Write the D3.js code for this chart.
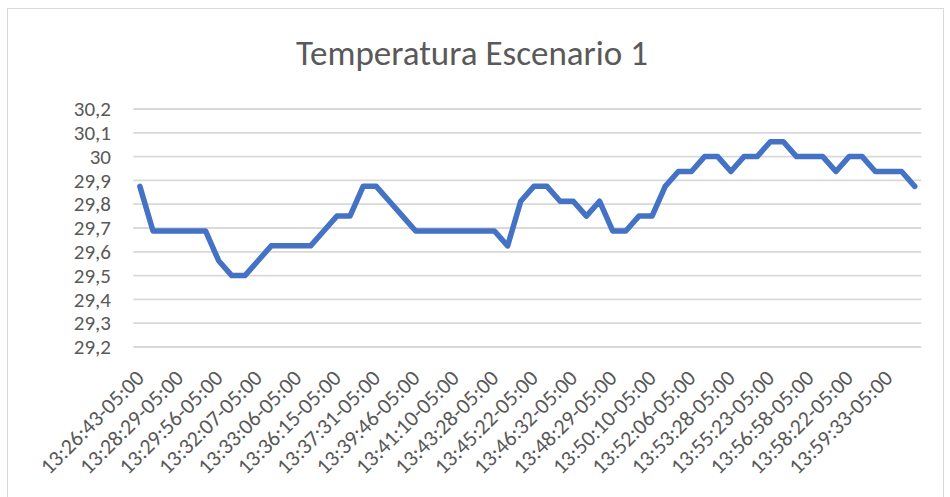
<!DOCTYPE html>
<html>
<head>
<meta charset="utf-8">
<script src="https://cdn.jsdelivr.net/npm/d3@7"></script>
<style>
  html, body { margin: 0; padding: 0; background: #ffffff; }
  svg { display: block; }
  text { font-family: Calibri, Carlito, Lato, "Open Sans", sans-serif; fill: #595959; }
</style>
</head>
<body>
<svg id="chart" width="950" height="497"></svg>
<script>
// Sensor readings (°C), one per sample
const temps = [
  29.875, 29.6875, 29.6875, 29.6875, 29.6875, 29.6875, 29.5625, 29.5, 29.5, 29.5625,
  29.625, 29.625, 29.625, 29.625, 29.6875, 29.75, 29.75, 29.875, 29.875, 29.8125,
  29.75, 29.6875, 29.6875, 29.6875, 29.6875, 29.6875, 29.6875, 29.6875, 29.625, 29.8125,
  29.875, 29.875, 29.8125, 29.8125, 29.75, 29.8125, 29.6875, 29.6875, 29.75, 29.75,
  29.875, 29.9375, 29.9375, 30.0, 30.0, 29.9375, 30.0, 30.0, 30.0625, 30.0625,
  30.0, 30.0, 30.0, 29.9375, 30.0, 30.0, 29.9375, 29.9375, 29.9375, 29.875
];

// Timestamps shown on the category axis (every third sample)
const timeLabels = [
  "13:26:43-05:00", "13:28:29-05:00", "13:29:56-05:00", "13:32:07-05:00",
  "13:33:06-05:00", "13:36:15-05:00", "13:37:31-05:00", "13:39:46-05:00",
  "13:41:10-05:00", "13:43:28-05:00", "13:45:22-05:00", "13:46:32-05:00",
  "13:48:29-05:00", "13:50:10-05:00", "13:52:06-05:00", "13:53:28-05:00",
  "13:55:23-05:00", "13:56:58-05:00", "13:58:22-05:00", "13:59:33-05:00"
];
const labelStep = 3;

// Value axis ticks
const yTicks = [29.2, 29.3, 29.4, 29.5, 29.6, 29.7, 29.8, 29.9, 30.0, 30.1, 30.2];

const title = "Temperatura Escenario 1";

const svg = d3.select("#chart");

// chart frame
svg.append("rect")
  .attr("x", 7.5).attr("y", 8.5)
  .attr("width", 936).attr("height", 500)
  .attr("fill", "#ffffff")
  .attr("stroke", "#d9d9d9")
  .attr("stroke-width", 1);

const plot = { left: 133.3, right: 921.3, top: 109, bottom: 347 };

const x = d3.scaleBand()
  .domain(d3.range(temps.length))
  .range([plot.left, plot.right])
  .padding(0);

const y = d3.scaleLinear()
  .domain([yTicks[0], yTicks[yTicks.length - 1]])
  .range([plot.bottom, plot.top]);

const esLocale = d3.formatLocale({ decimal: ",", thousands: ".", grouping: [3], currency: ["", " €"] });
const fmt = esLocale.format("~g");

// horizontal gridlines
svg.append("g")
  .selectAll("line")
  .data(yTicks)
  .join("line")
  .attr("x1", plot.left).attr("x2", plot.right)
  .attr("y1", d => y(d)).attr("y2", d => y(d))
  .attr("stroke", "#d9d9d9")
  .attr("stroke-width", 1.8);

// value axis labels
const yAxis = d3.axisLeft(y).tickValues(yTicks).tickFormat(fmt).tickSize(0).tickPadding(0);
const gy = svg.append("g")
  .attr("transform", `translate(111,0)`)
  .call(yAxis);
gy.select(".domain").remove();
gy.selectAll("text")
  .attr("font-size", 21)
  .attr("fill", "#595959")
  .style("font-family", "Calibri, Carlito, Lato, sans-serif");

// category axis labels, rotated
const tickIdx = d3.range(0, temps.length, labelStep);
const xAxis = d3.axisBottom(x)
  .tickValues(tickIdx)
  .tickFormat(i => timeLabels[i / labelStep])
  .tickSize(0);
const gx = svg.append("g")
  .attr("transform", `translate(0,${plot.bottom})`)
  .call(xAxis);
gx.select(".domain").remove();
gx.selectAll(".tick text")
  .attr("x", 0).attr("y", 0).attr("dy", "0.35em")
  .attr("text-anchor", "end")
  .attr("transform", "translate(0,27) rotate(-45)")
  .attr("font-size", 22)
  .attr("fill", "#595959")
  .style("font-family", "Calibri, Carlito, Lato, sans-serif");

// temperature line
const line = d3.line()
  .x((d, i) => x(i) + x.bandwidth() / 2)
  .y(d => y(d));

svg.append("path")
  .datum(temps)
  .attr("d", line)
  .attr("fill", "none")
  .attr("stroke", "#4472c4")
  .attr("stroke-width", 5.5)
  .attr("stroke-linejoin", "round")
  .attr("stroke-linecap", "round");

// title
svg.append("text")
  .attr("x", 472).attr("y", 65)
  .attr("text-anchor", "middle")
  .attr("font-size", 35)
  .text(title);
</script>
</body>
</html>
